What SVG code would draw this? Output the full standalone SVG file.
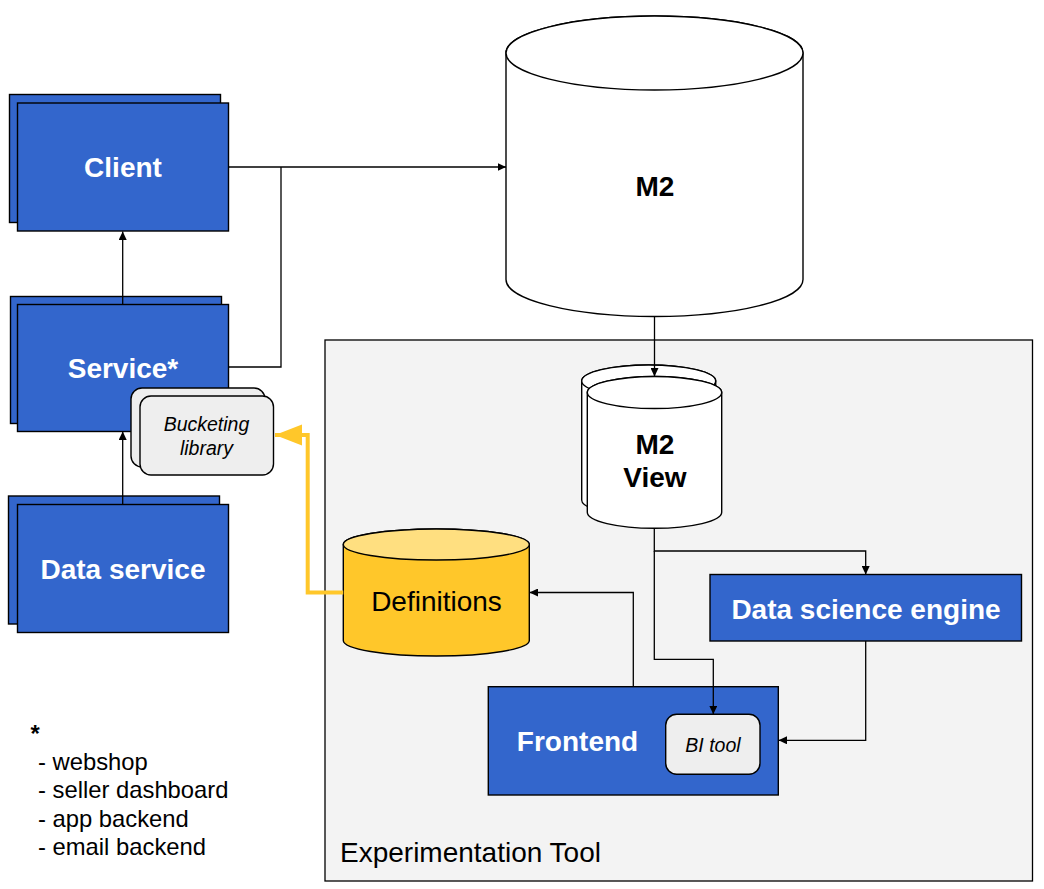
<svg xmlns="http://www.w3.org/2000/svg" width="1044" height="889" viewBox="0 0 1044 889">
<defs>
<style>
.blue{fill:#3366cc;stroke:#000;stroke-width:1.4}
.wt{fill:#fff;font-family:"Liberation Sans",Arial,sans-serif;font-weight:bold;font-size:28px;text-anchor:middle}
.bt{fill:#000;font-family:"Liberation Sans",Arial,sans-serif;font-weight:bold;font-size:28px;text-anchor:middle}
.rt{fill:#000;font-family:"Liberation Sans",Arial,sans-serif;font-size:28px}
.it{fill:#000;font-family:"Liberation Sans",Arial,sans-serif;font-style:italic;font-size:19.5px;text-anchor:middle}
.ft{fill:#000;font-family:"Liberation Sans",Arial,sans-serif;font-size:23.8px}
.cyl{fill:#fff;stroke:#000;stroke-width:1.4}
.lib{fill:#eeeeee;stroke:#000;stroke-width:1.4}
.con{fill:none;stroke:#000;stroke-width:1.3}
</style>
<marker id="ah" markerUnits="userSpaceOnUse" markerWidth="9" markerHeight="8" refX="8.5" refY="4" orient="auto">
<path d="M0,0 L8.5,4 L0,8 z" fill="#000"/>
</marker>
<marker id="yah" markerUnits="userSpaceOnUse" markerWidth="28" markerHeight="22" refX="27" refY="10.5" orient="auto">
<path d="M0,0 L27,10.5 L0,21 z" fill="#ffc72a"/>
</marker>
</defs>
<rect width="1044" height="889" fill="#fff"/>

<g id="experimentation-tool">
<rect x="325" y="340" width="707.5" height="541" fill="#f3f3f3" stroke="#000" stroke-width="1.3"/>
<text class="rt" x="340" y="861.5">Experimentation Tool</text>
</g>

<g id="client">
<rect class="blue" x="9.5" y="94.5" width="211" height="128"/>
<rect class="blue" x="17.5" y="103" width="211" height="128"/>
<text class="wt" x="123" y="177">Client</text>
</g>

<g id="service">
<rect class="blue" x="10.5" y="296.5" width="211" height="127"/>
<rect class="blue" x="17.5" y="304.5" width="211" height="127"/>
<text class="wt" x="123" y="377.5">Service*</text>
</g>

<g id="bucketing-library">
<rect class="lib" x="131" y="388" width="134" height="79" rx="11"/>
<rect class="lib" x="140" y="396" width="133.5" height="79" rx="11"/>
<text class="it" x="206.5" y="430.5">Bucketing</text>
<text class="it" x="206.5" y="455">library</text>
</g>

<g id="data-service">
<rect class="blue" x="8.5" y="496" width="211" height="128"/>
<rect class="blue" x="17.5" y="504.5" width="211" height="128"/>
<text class="wt" x="123" y="579">Data service</text>
</g>

<g id="m2">
<path class="cyl" d="M506,53 A148.5,37 0 0 1 803,53 V279.5 A148.5,37 0 0 1 506,279.5 Z"/>
<ellipse class="cyl" cx="654.5" cy="53" rx="148.5" ry="37"/>
<text class="bt" x="655" y="196">M2</text>
</g>

<g id="m2-view">
<path class="cyl" d="M581.7,381 A67,16 0 0 1 715.7,381 V500 A67,16 0 0 1 581.7,500 Z"/>
<ellipse class="cyl" cx="648.7" cy="381" rx="67" ry="16"/>
<path class="cyl" d="M587.3,392.5 A67.2,16 0 0 1 721.7,392.5 V512.3 A67.2,16 0 0 1 587.3,512.3 Z"/>
<ellipse class="cyl" cx="654.5" cy="392.5" rx="67.2" ry="16"/>
<text class="bt" x="655" y="454">M2</text>
<text class="bt" x="655" y="487">View</text>
</g>

<g id="definitions">
<path d="M343.3,544.5 A93,15.5 0 0 1 529.3,544.5 V640.5 A93,15.5 0 0 1 343.3,640.5 Z" fill="#ffc72a" stroke="#000" stroke-width="1.4"/>
<ellipse cx="436.3" cy="544.5" rx="93" ry="15.5" fill="#ffdf80" stroke="#000" stroke-width="1.4"/>
<text class="rt" x="436.5" y="610.5" text-anchor="middle">Definitions</text>
</g>

<g id="data-science-engine">
<rect class="blue" x="710" y="574.5" width="311.5" height="66.5"/>
<text class="wt" x="866" y="618.5">Data science engine</text>
</g>

<g id="frontend">
<rect class="blue" x="488.3" y="686.7" width="290" height="108.3"/>
<text class="wt" x="577.5" y="751">Frontend</text>
</g>

<g id="bi-tool">
<rect class="lib" x="665.7" y="714.3" width="94.3" height="60" rx="11"/>
<text class="it" x="713" y="751.5">BI tool</text>
</g>

<g id="footnote">
<text class="ft" x="30.5" y="742" font-weight="bold">*</text>
<text class="ft" x="38" y="770">- webshop</text>
<text class="ft" x="38" y="798.3">- seller dashboard</text>
<text class="ft" x="38" y="826.7">- app backend</text>
<text class="ft" x="38" y="855">- email backend</text>
</g>

<g id="connectors">
<path class="con" d="M228.7,167 H506" marker-end="url(#ah)"/>
<path class="con" d="M228.7,367 H281 V167"/>
<path class="con" d="M122.7,304.5 V231.5" marker-end="url(#ah)"/>
<path class="con" d="M122.7,504.5 V431.5" marker-end="url(#ah)"/>
<path class="con" d="M654.5,317 V376.5" marker-end="url(#ah)"/>
<path class="con" d="M654.3,528.3 V551 H865.7 V574.5" marker-end="url(#ah)"/>
<path class="con" d="M654.3,551 V659.3 H713.3 V714.3" marker-end="url(#ah)"/>
<path class="con" d="M865.7,641 V740.3 H778.5" marker-end="url(#ah)"/>
<path class="con" d="M633.3,686.7 V592.5 H529.5" marker-end="url(#ah)"/>
<path d="M343.3,592.5 H307.7 V435 H275" fill="none" stroke="#ffc72a" stroke-width="4" marker-end="url(#yah)"/>
</g>
</svg>
